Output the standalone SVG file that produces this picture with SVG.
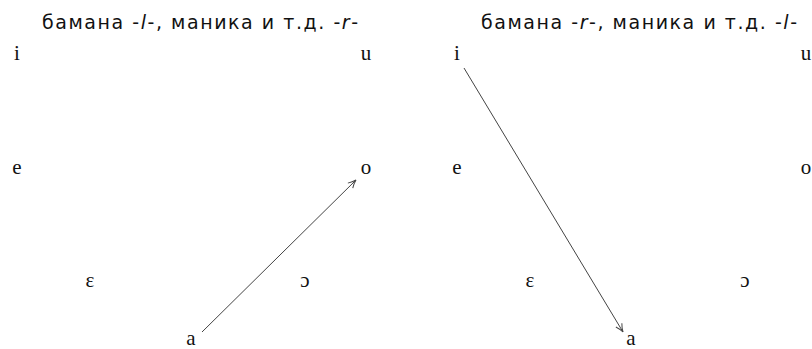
<svg xmlns="http://www.w3.org/2000/svg" width="812" height="349" viewBox="0 0 812 349">
<style>
.v{font-family:"Liberation Serif","DejaVu Serif",serif;font-size:21px;fill:#111;text-anchor:middle}
.t{font-family:"DejaVu Sans","Liberation Sans",sans-serif;font-size:19px;fill:#111}
.c{stroke:#444;stroke-width:1;fill:none}
</style>
<defs>
<marker id="ah" markerWidth="12" markerHeight="10" refX="9" refY="5" orient="auto" markerUnits="userSpaceOnUse">
<path d="M1,1.5 Q5,4 9,5 Q5,6 1,8.5" fill="none" stroke="#444" stroke-width="1"/>
</marker>
</defs>
<g id="left-title"><text class="t" x="42" y="29" textLength="316" lengthAdjust="spacing">бамана -<tspan font-style="italic">l</tspan>-, маника и т.д. -<tspan font-style="italic">r</tspan>-</text></g>
<g id="right-title"><text class="t" x="481" y="29" textLength="316" lengthAdjust="spacing">бамана -<tspan font-style="italic">r</tspan>-, маника и т.д. -<tspan font-style="italic">l</tspan>-</text></g>
<g id="L-i"><text class="v" x="17" y="60">i</text></g>
<g id="L-u"><text class="v" x="366" y="60">u</text></g>
<g id="L-e"><text class="v" x="17" y="174">e</text></g>
<g id="L-o"><text class="v" x="366" y="174">o</text></g>
<g id="L-eps"><text class="v" x="90" y="287">ɛ</text></g>
<g id="L-oo"><text class="v" x="305" y="287">ɔ</text></g>
<g id="L-a"><text class="v" x="191" y="345">a</text></g>
<g id="R-i"><text class="v" x="457" y="60">i</text></g>
<g id="R-u"><text class="v" x="806" y="60">u</text></g>
<g id="R-e"><text class="v" x="457" y="174">e</text></g>
<g id="R-o"><text class="v" x="806" y="174">o</text></g>
<g id="R-eps"><text class="v" x="530" y="287">ɛ</text></g>
<g id="R-oo"><text class="v" x="745" y="287">ɔ</text></g>
<g id="R-a"><text class="v" x="631" y="345">a</text></g>
<g id="connectors">
<line class="c" x1="202" y1="332" x2="356" y2="180" marker-end="url(#ah)"/>
<line class="c" x1="464" y1="68" x2="623" y2="332" marker-end="url(#ah)"/>
</g>
</svg>
